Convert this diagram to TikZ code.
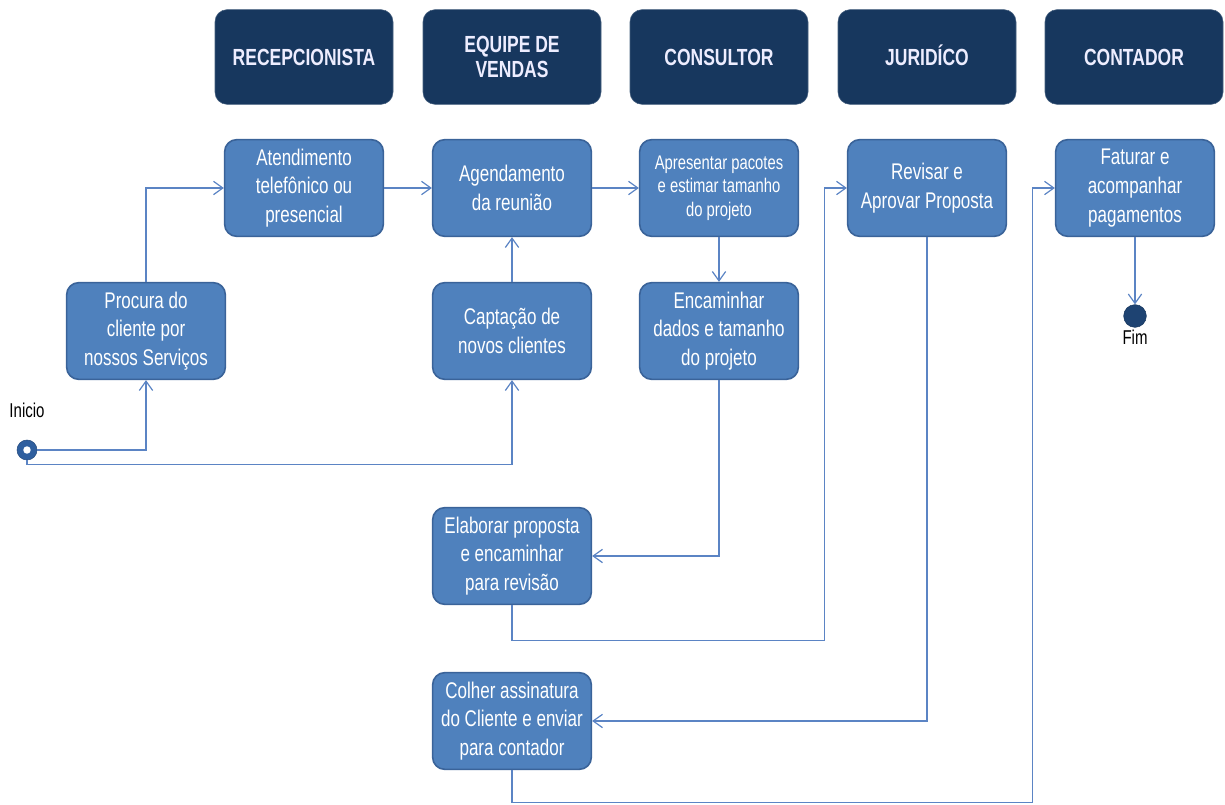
\documentclass[tikz,border=0pt]{standalone}
\usepackage{fontspec}
\setmainfont[FakeStretch=0.75]{Liberation Sans}
\usetikzlibrary{arrows.meta}
\definecolor{navy}{HTML}{17375E}
\definecolor{boxblue}{HTML}{4F81BD}
\definecolor{boxedge}{HTML}{3A6399}
\definecolor{linkblue}{HTML}{5B84C4}
\definecolor{dotblue}{HTML}{2F5F9F}
\begin{document}
\begin{tikzpicture}[x=0.75pt, y=-0.75pt,
    lane/.style = {fill=navy, draw=navy!80!white, rounded corners=9pt, minimum width=133.5pt,
        minimum height=71pt, text=white!93!blue, align=center,
        font=\fontsize{17.5}{19}\selectfont\bfseries},
    task/.style = {fill=boxblue, draw=boxedge, line width=1.2pt, rounded corners=9pt,
        minimum width=119pt, minimum height=72.5pt, text=white, align=center,
        inner sep=2pt, font=\fontsize{17}{21.5}\selectfont},
    conn/.style = {draw=linkblue, line width=0.9pt,
        -{Straight Barb[length=7pt, width=10pt, line width=0.9pt]}},
    lbl/.style = {font=\fontsize{15}{17}\selectfont, text=black}]
    \useasboundingbox (0, 0) rectangle (1225, 805);
    \node [lane] (recep) at (304, 57) {RECEPCIONISTA};
    \node [lane] (vendas) at (512, 57) {EQUIPE DE\\VENDAS};
    \node [lane] (consul) at (719, 57) {CONSULTOR};
    \node [lane] (jurid) at (927, 57) {JURID\smash{Í}CO};
    \node [lane] (contad) at (1134, 57) {CONTADOR};

    \node [task] (atend) at (304, 188) {Atendimento\\telefônico ou\\presencial};
    \node [task] (agenda) at (512, 188) {Agendamento\\da reunião};
    \node [task, font=\fontsize{14.8}{17.6}\selectfont] (apres) at (719, 188) {Apresentar pacotes\\e estimar tamanho\\do projeto};
    \node [task] (revisa) at (927, 188) {Revisar e\\Aprovar Proposta};
    \node [task] (fatura) at (1135, 188) {Faturar e\\acompanhar\\pagamentos};
    \node [task] (procura) at (146, 331) {Procura do\\cliente por\\nossos Serviços};
    \node [task] (capta) at (512, 331) {Captação de\\novos clientes};
    \node [task] (encam) at (719, 331) {Encaminhar\\dados e tamanho\\do projeto};
    \node [task] (elabora) at (512, 556) {Elaborar proposta\\e encaminhar\\para revisão};
    \node [task] (colhe) at (512, 721) {Colher assinatura\\do Cliente e enviar\\para contador};

    \node [circle, fill=dotblue, draw=dotblue!80!black, minimum size=15pt, inner sep=0pt] (inicio) at (27, 450) {};
    \fill [white] (inicio.center) circle (2.8pt);
    \node [lbl, above=13pt] at (inicio.north) {Inicio};
    \node [circle, fill=navy!70!dotblue, draw=navy, minimum size=17pt, inner sep=0pt] (fim) at (1135, 316) {};
    \node [lbl, below=-2pt] at (fim.south) {Fim};

    \draw [conn] (inicio.east) -| (procura.south);
    \draw [conn] (inicio.south) -- ++(0, 4) -| (capta.south);
    \draw [conn] (procura.north) |- (atend.west);
    \draw [conn] (atend.east) -- (agenda.west);
    \draw [conn] (capta.north) -- (agenda.south);
    \draw [conn] (agenda.east) -- (apres.west);
    \draw [conn] (apres.south) -- (encam.north);
    \draw [conn] (encam.south) |- (elabora.east);
    \draw [conn] (elabora.south) -- ++(0, 35) -| ([xshift=-16.5pt]revisa.west) -- (revisa.west);
    \draw [conn] (revisa.south) |- (colhe.east);
    \draw [conn] (colhe.south) -- ++(0, 32) -| ([xshift=-17pt]fatura.west) -- (fatura.west);
    \draw [conn] (fatura.south) -- (fim.north);
\end{tikzpicture}
\end{document}
